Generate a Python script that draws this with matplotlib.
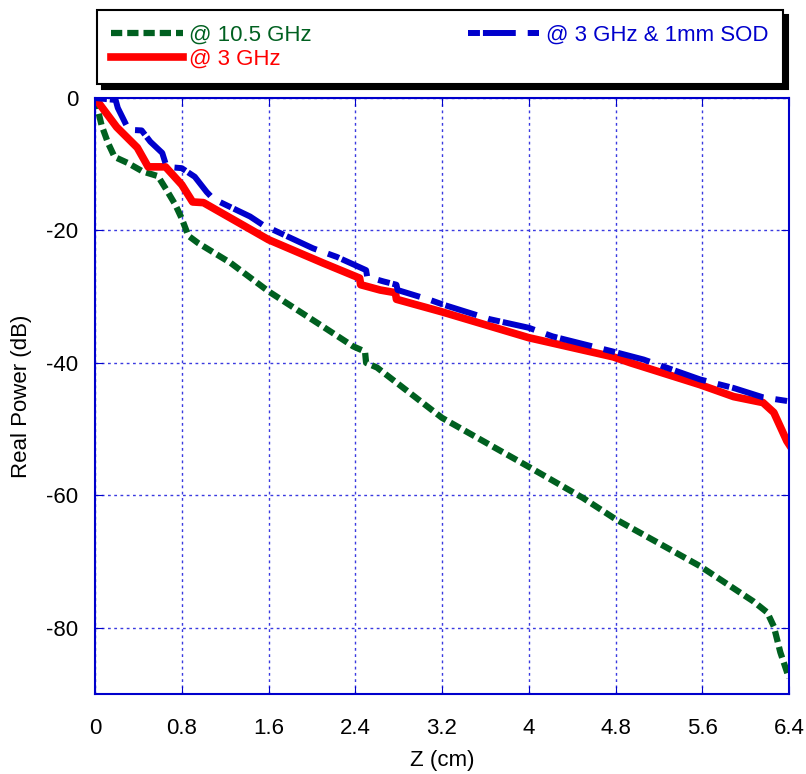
import matplotlib
matplotlib.use('Agg')
import matplotlib.pyplot as plt
import numpy as np

plt.rcParams['font.family'] = ['Liberation Sans', 'DejaVu Sans']
plt.rcParams['axes.unicode_minus'] = False

# Real power vs depth Z
z_105 = [0, 0.06, 0.12, 0.18, 0.3, 0.44, 0.58, 0.66, 0.74, 0.8, 0.86, 0.95, 1.25, 1.6,
         2.1, 2.38, 2.49, 2.5, 2.6, 3.2, 4.0, 4.5, 4.66, 4.8, 5.58, 6.07, 6.2, 6.26, 6.32, 6.4]
p_105 = [0, -4.1, -6.8, -8.9, -9.8, -11.1, -11.8, -13.9, -16.1, -18.2, -20.8, -21.9, -24.9, -29.2,
         -34.5, -37.5, -38.3, -40.0, -40.7, -48.3, -55.7, -60.4, -62.1, -63.6, -70.7, -76.0, -77.7,
         -79.8, -83.7, -87.6]

z_3 = [0, 0.2, 0.39, 0.49, 0.65, 0.8, 0.9, 1.0, 1.6, 2.1, 2.44, 2.45, 2.63, 2.77, 2.78,
       3.2, 4.0, 4.78, 4.94, 5.58, 5.89, 6.16, 6.26, 6.38, 6.4]
p_3 = [0, -4.4, -7.5, -10.4, -10.4, -13.1, -15.7, -15.8, -21.4, -24.9, -27.2, -28.2, -29.0, -29.4, -30.4,
       -32.3, -36.2, -39.1, -40.0, -43.3, -45.1, -46.0, -47.5, -51.8, -52.3]

z_sod = [0, 0.19, 0.21, 0.31, 0.43, 0.51, 0.62, 0.66, 0.8, 0.92, 1.03, 1.1, 1.15, 1.43, 1.55,
         2.01, 2.23, 2.5, 2.51, 2.66, 2.78, 2.79, 3.09, 3.21, 3.64, 4.0, 4.22, 4.78, 5.06, 5.58,
         5.89, 6.16, 6.4]
p_sod = [0, -0.3, -1.5, -4.8, -4.9, -6.6, -8.3, -10.4, -10.6, -11.9, -14.2, -15.4, -15.7, -17.9, -19.2,
         -22.7, -24.0, -26.0, -27.0, -27.7, -28.2, -29.0, -30.5, -31.2, -33.4, -34.7, -36.0, -38.3,
         -39.5, -42.5, -43.8, -45.2, -45.8]

x_ticks = [0, 0.8, 1.6, 2.4, 3.2, 4, 4.8, 5.6, 6.4]
x_labels = ['0', '0.8', '1.6', '2.4', '3.2', '4', '4.8', '5.6', '6.4']
y_ticks = [0, -20, -40, -60, -80]

blue = '#0000cc'

fig = plt.figure(figsize=(8.06, 7.74), dpi=100)
ax = fig.add_axes([0.1179, 0.1034, 0.861, 0.770])

ax.plot(z_105, p_105, color='#006020', lw=4.5, dashes=(1.8, 0.8), label='@ 10.5 GHz')
ax.plot(z_3, p_3, color='#ff0000', lw=5.5, label='@ 3 GHz')
ax.plot(z_sod, p_sod, color=blue, lw=4.3, dashes=(2, 0.5, 5.5, 2), label='@ 3 GHz & 1mm SOD')

ax.set_xlim(0, 6.4)
ax.set_ylim(-90, 0)
ax.set_xticks(x_ticks)
ax.set_xticklabels(x_labels)
ax.set_yticks(y_ticks)
ax.grid(True, color='#3a3ae0', lw=1, linestyle=(0, (2, 2.5)))
for s in ax.spines.values():
    s.set_color(blue)
    s.set_linewidth(1.5)
ax.tick_params(direction='in', length=6, color=blue, top=True, right=True,
               labelsize=16, labelcolor='black')
ax.tick_params(axis='x', pad=17)
ax.tick_params(axis='y', pad=12)
ax.set_xlabel('Z (cm)', fontsize=16, labelpad=8)
ax.set_ylabel('Real Power (dB)', fontsize=16, labelpad=10)

# legend box above the axes with a solid black drop shadow
leg = ax.legend(ncol=2, loc='upper left', mode='expand',
                bbox_to_anchor=(97 / 806, 1 - 82 / 774, 686 / 806, 72 / 774),
                bbox_transform=fig.transFigure, borderaxespad=0,
                fontsize=16, labelcolor='linecolor', handlelength=3.2,
                handletextpad=0.3, borderpad=0.65, labelspacing=0.15,
                fancybox=False, edgecolor='black',
                shadow={'ox': 3.6, 'oy': -3.6, 'color': 'black', 'alpha': 1})
leg.get_frame().set_linewidth(1.5)
leg.get_frame().set_alpha(1)

fig.savefig('out.png', dpi=100)
